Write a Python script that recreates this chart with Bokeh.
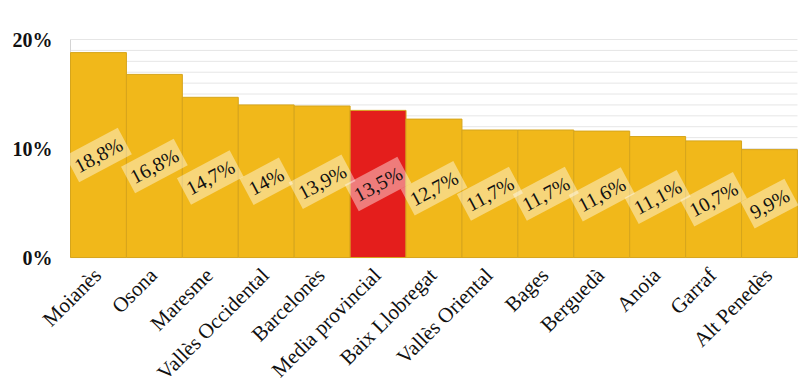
from bokeh.plotting import figure
from bokeh.models import ColumnDataSource, Range1d
from bokeh.core.properties import value
from bokeh.embed import file_html
from bokeh.resources import INLINE

# ---- data ----
categories = ["Moianès", "Osona", "Maresme", "Vallès Occidental", "Barcelonès",
              "Media provincial", "Baix Llobregat", "Vallès Oriental", "Bages",
              "Berguedà", "Anoia", "Garraf", "Alt Penedès"]
values = [18.8, 16.8, 14.7, 14.0, 13.9, 13.5, 12.7, 11.7, 11.7, 11.6, 11.1, 10.7, 9.9]
highlight = "Media provincial"
y_ticks = [0, 10, 20]
y_tick_labels = ["0%", "10%", "20%"]
grid_ticks = list(range(0, 21))

GOLD = "#F1B81A"
RED = "#E41E1C"
FONT = "Liberation Serif"

n = len(categories)
xs = list(range(n))
colors = [RED if c == highlight else GOLD for c in categories]
labels = [f"{v:g}".replace(".", ",") + "%" for v in values]
mid = [v / 2 for v in values]

src = ColumnDataSource(dict(x=xs, cat=categories, val=values, color=colors,
                            lab=labels, mid=mid, base=[-1.3] * n))

# The whole canvas is the frame, so rotated category texts (cut at the bottom as in
# the reference) and tick labels are drawn as glyphs through the plot's scales.
p = figure(width=800, height=380, output_backend="svg", toolbar_location=None,
           x_range=Range1d(-1.752, n - 0.5 + 0.054),
           y_range=Range1d(-11.28, 23.58),
           x_axis_location=None, y_axis_location=None,
           min_border_left=0, min_border_right=0, min_border_top=0,
           min_border_bottom=0)
p.xgrid.visible = False
p.ygrid.visible = False
p.outline_line_color = None
p.background_fill_color = "white"
p.border_fill_color = "white"

# horizontal grid lines (every 1%) over the plot area
p.segment(x0=[-0.5] * len(grid_ticks), x1=[n - 0.5] * len(grid_ticks),
          y0=grid_ticks, y1=grid_ticks, line_color="#e6e6e6", line_width=1)
# left edge of the plot area
p.segment(x0=[-0.5], x1=[-0.5], y0=[y_ticks[0]], y1=[y_ticks[-1]],
          line_color="#d4d4d4", line_width=1)

p.vbar(x="x", top="val", width=1.0, source=src, fill_color="color",
       line_color="#D6A51C", line_width=1)

# y tick labels
p.text(x=[-0.5] * len(y_ticks), y=y_ticks, text=y_tick_labels, x_offset=-18,
       text_align="right", text_baseline="middle",
       text_font=value(FONT), text_font_style="bold", text_font_size="20px",
       text_color="#111111")

# data labels
p.text(x="x", y="mid", text="lab", source=src,
       angle=28, angle_units="deg",
       text_align="center", text_baseline="middle",
       text_font=value(FONT), text_font_size="20px", text_color="#111111",
       background_fill_color="white", background_fill_alpha=0.42,
       padding=4)

# category labels
p.text(x="x", y="base", text="cat", source=src,
       angle=45, angle_units="deg", x_offset=-1,
       text_align="right", text_baseline="middle",
       text_font=value(FONT), text_font_size="21px", text_color="#111111")

open("out.html", "w").write(file_html(p, INLINE))
